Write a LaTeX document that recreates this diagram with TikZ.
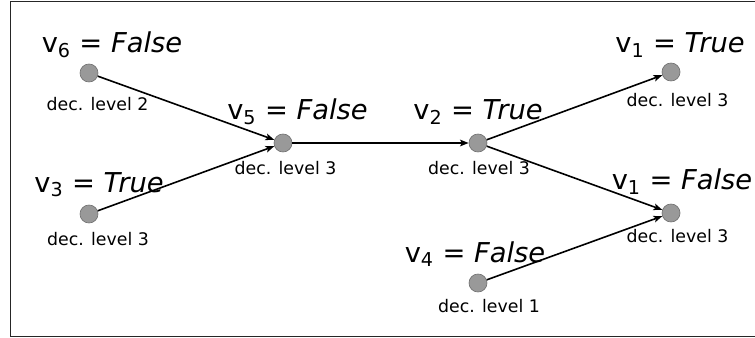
\documentclass[tikz,border=0pt]{standalone}
\usepackage{fontspec}
\setmainfont{DejaVu Sans}
\usetikzlibrary{arrows.meta}

\tikzset{
    var/.style={circle, fill=black!40, draw=black!55, line width=0.5pt,
        minimum size=13.5pt, inner sep=0pt},
    val/.style={anchor=base, inner sep=0pt, font=\fontsize{20.5}{24}\selectfont},
    lvl/.style={anchor=base, inner sep=0pt, font=\fontsize{13}{15}\selectfont},
    imp/.style={line width=1.2pt, -{Stealth[length=6.5pt,width=5pt,inset=1.5pt]}},
}
\newcommand{\asgn}[2]{v\textsubscript{#1} = \textit{#2}}

\begin{document}
\begin{tikzpicture}[x=0.75pt,y=-0.75pt]
    \useasboundingbox (0,0) rectangle (755,338);
    \draw[line width=1.3pt, black!85] (770,1.5) -- (10.5,1.5) -- (10.5,336.5) -- (770,336.5);
    % variables
    \node[var] (v6) at (89,73) {};
    \node[var] (v3) at (89,214) {};
    \node[var] (v5) at (283,143) {};
    \node[var] (v2) at (478,143) {};
    \node[var] (v1t) at (671,72) {};
    \node[var] (v1f) at (671,213) {};
    \node[var] (v4) at (478,283) {};
    % assignments
    \node[val] (v6-val) at (112,53) {\asgn{6}{False}};
    \node[val] (v3-val) at (99,192) {\asgn{3}{True}};
    \node[val] (v5-val) at (297.5,120) {\asgn{5}{False}};
    \node[val] (v2-val) at (478,120) {\asgn{2}{True}};
    \node[val] (v1t-val) at (680,53) {\asgn{1}{True}};
    \node[val] (v1f-val) at (682,190) {\asgn{1}{False}};
    \node[val] (v4-val) at (475,262) {\asgn{4}{False}};
    % decision levels
    \node[lvl] (v6-lvl) at (97.5,111) {dec. level 2};
    \node[lvl] (v3-lvl) at (98,245) {dec. level 3};
    \node[lvl] (v5-lvl) at (285.5,175) {dec. level 3};
    \node[lvl] (v2-lvl) at (479,175) {dec. level 3};
    \node[lvl] (v1t-lvl) at (677.5,107) {dec. level 3};
    \node[lvl] (v1f-lvl) at (677.5,242) {dec. level 3};
    \node[lvl] (v4-lvl) at (489,312) {dec. level 1};
    % implications
    \draw[imp] (v6) -- (v5);
    \draw[imp] (v3) -- (v5);
    \draw[imp] (v5) -- (v2);
    \draw[imp] (v2) -- (v1t);
    \draw[imp] (v2) -- (v1f);
    \draw[imp] (v4) -- (v1f);
\end{tikzpicture}
\end{document}
